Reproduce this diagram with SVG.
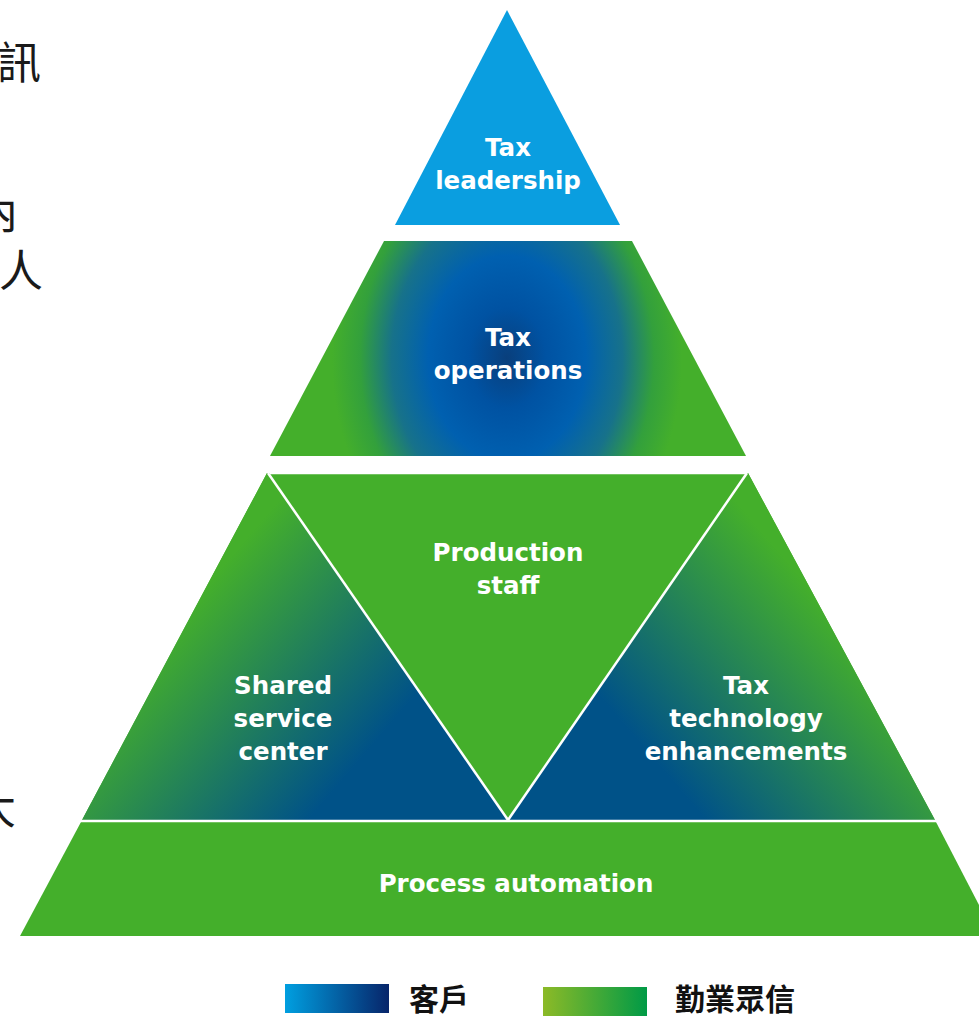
<svg xmlns="http://www.w3.org/2000/svg" width="979" height="1017" viewBox="0 0 979 1017">
  <style>
    .lbl { font-family: "DejaVu Sans", Verdana, sans-serif; font-weight: bold; font-size: 24.5px; fill: #ffffff; text-anchor: middle; }
    .side { font-family: "Noto Sans CJK TC", "Noto Sans CJK SC", sans-serif; font-size: 44px; fill: #1a1a1a; }
    .legend { font-family: "Noto Sans CJK TC", "Noto Sans CJK SC", sans-serif; font-weight: bold; font-size: 30px; fill: #111111; }
    .green { fill: #44af2b; }
    .sep { stroke: #ffffff; stroke-width: 2.5; fill: none; }
  </style>
  <defs>
    <radialGradient id="opsGrad" gradientUnits="userSpaceOnUse" cx="507" cy="358" r="175" gradientTransform="translate(507 358) scale(1 1.3) translate(-507 -358)">
      <stop offset="0" stop-color="#093f7c"/>
      <stop offset="0.22" stop-color="#0052a2"/>
      <stop offset="0.45" stop-color="#0060b0"/>
      <stop offset="0.66" stop-color="#17728a"/>
      <stop offset="0.84" stop-color="#33a03c"/>
      <stop offset="1" stop-color="#44af2b"/>
    </radialGradient>
    <linearGradient id="leftGrad" gradientUnits="userSpaceOnUse" x1="185" y1="610" x2="360" y2="760">
      <stop offset="0" stop-color="#44af2b"/>
      <stop offset="1" stop-color="#005288"/>
    </linearGradient>
    <linearGradient id="rightGrad" gradientUnits="userSpaceOnUse" x1="829" y1="610" x2="654" y2="760">
      <stop offset="0" stop-color="#44af2b"/>
      <stop offset="1" stop-color="#005288"/>
    </linearGradient>
    <linearGradient id="clientGrad" x1="0" y1="0" x2="1" y2="0">
      <stop offset="0" stop-color="#009fe0"/>
      <stop offset="1" stop-color="#07256a"/>
    </linearGradient>
    <linearGradient id="firmGrad" x1="0" y1="0" x2="1" y2="0">
      <stop offset="0" stop-color="#8cba27"/>
      <stop offset="1" stop-color="#009a46"/>
    </linearGradient>
  </defs>

  <!-- partially visible text at the left edge -->
  <g id="side-text">
    <text class="side" x="-3" y="79">訊</text>
    <text class="side" x="-26" y="229">內</text>
    <text class="side" x="-1" y="287">人</text>
    <text class="side" x="-28" y="824">大</text>
  </g>

  <!-- pyramid tiers -->
  <g id="tax-leadership">
    <polygon points="507,10 620,225 395,225" fill="#0a9ee0"/>
    <text class="lbl" x="508" y="156">Tax</text>
    <text class="lbl" x="508" y="189">leadership</text>
  </g>

  <g id="tax-operations">
    <polygon points="384,241 632,241 746,456 270,456" fill="url(#opsGrad)"/>
    <text class="lbl" x="508" y="346">Tax</text>
    <text class="lbl" x="508" y="379">operations</text>
  </g>

  <g id="production-staff">
    <polygon points="267,473 748,473 935,820 82,820" class="green"/>
    <text class="lbl" x="508" y="561">Production</text>
    <text class="lbl" x="508" y="594">staff</text>
  </g>

  <g id="shared-service-center">
    <polygon points="267,473 508,820 82,820" fill="url(#leftGrad)"/>
    <text class="lbl" x="283" y="694">Shared</text>
    <text class="lbl" x="283" y="727">service</text>
    <text class="lbl" x="283" y="760">center</text>
  </g>

  <g id="tax-technology">
    <polygon points="748,473 935,820 508,820" fill="url(#rightGrad)"/>
    <text class="lbl" x="746" y="694">Tax</text>
    <text class="lbl" x="746" y="727">technology</text>
    <text class="lbl" x="746" y="760">enhancements</text>
  </g>

  <g id="process-automation">
    <polygon points="81,822 936,822 995,936 20,936" class="green"/>
    <text class="lbl" x="516" y="892">Process automation</text>
  </g>

  <!-- white separators inside the third tier -->
  <g id="connectors">
    <line class="sep" x1="268" y1="473" x2="508" y2="820"/>
    <line class="sep" x1="747" y1="473" x2="508" y2="820"/>
    <line class="sep" x1="270" y1="473" x2="746" y2="473"/>
    <line class="sep" x1="80" y1="821" x2="937" y2="821"/>
  </g>

  <!-- legend -->
  <g id="legend">
    <rect x="285" y="984" width="104" height="29" fill="url(#clientGrad)"/>
    <text class="legend" x="409" y="1010">客戶</text>
    <rect x="543" y="987" width="104" height="29" fill="url(#firmGrad)"/>
    <text class="legend" x="675" y="1010">勤業眾信</text>
  </g>
</svg>
